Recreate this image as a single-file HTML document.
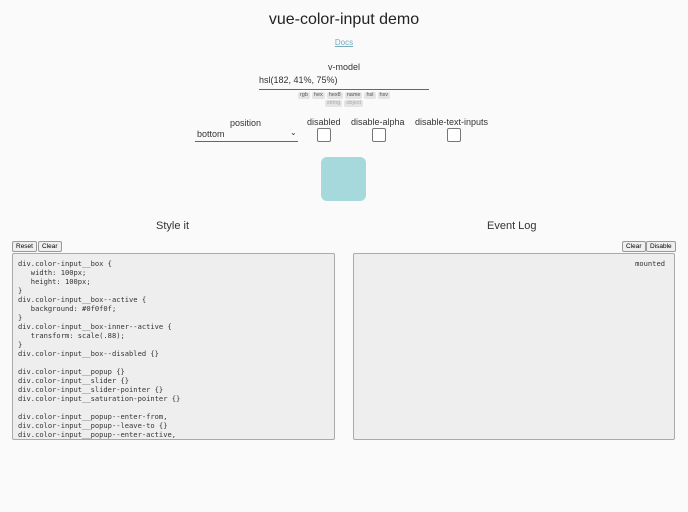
<!DOCTYPE html>
<html><head><style>
body{margin:0;background:#fafafa;width:688px;height:512px;position:relative;font-family:"Liberation Sans",sans-serif;color:#333;overflow:hidden}
.a{position:absolute}
.c{text-align:center}
.tag{display:inline-block;background:#e4e4e4;color:#555;font-size:5.5px;padding:0 2px;margin:0 1px;border-radius:2px;line-height:7px;vertical-align:top}
.tag.d{color:#aaa}
.cb{position:absolute;width:12px;height:12px;border:1px solid #777;border-radius:2px;background:#fff}
.btn{position:absolute;font-size:6.5px;border:1px solid #999;border-radius:2px;background:#efefef;padding:1px 3px;line-height:7px;color:#000}
.ta{position:absolute;background:#eee;border:1px solid #aaa;border-radius:2px;box-sizing:border-box;font-family:"DejaVu Sans Mono","Liberation Mono",monospace;font-size:7.1px;color:#333;white-space:pre;line-height:9px;overflow:hidden}
</style></head><body>
<div class="a c" style="left:0;width:688px;top:11px;font-size:16px;color:#222">vue-color-input demo</div>
<div class="a c" style="left:0;width:688px;top:38px;font-size:8px;color:#7ab;text-decoration:underline">Docs</div>
<div class="a c" style="left:0;width:688px;top:62px;font-size:9px">v-model</div>
<div class="a" style="left:259px;top:75px;font-size:9px">hsl(182, 41%, 75%)</div>
<div class="a" style="left:259px;top:89px;width:170px;border-top:1px solid #666"></div>
<div class="a c" style="left:0;width:688px;top:92px;height:7px"><span class="tag">rgb</span><span class="tag">hex</span><span class="tag">hex8</span><span class="tag">name</span><span class="tag">hsl</span><span class="tag">hsv</span></div>
<div class="a c" style="left:0;width:688px;top:100px;height:7px"><span class="tag d">string</span><span class="tag d">object</span></div>
<div class="a" style="left:230px;top:118px;font-size:9px">position</div>
<div class="a" style="left:197px;top:129px;font-size:9px">bottom</div>
<div class="a" style="left:290px;top:128px;font-size:8px">⌄</div>
<div class="a" style="left:195px;top:141px;width:103px;border-top:1px solid #666"></div>
<div class="a" style="left:307px;top:117px;font-size:9px">disabled</div>
<div class="cb" style="left:317px;top:128px"></div>
<div class="a" style="left:351px;top:117px;font-size:9px">disable-alpha</div>
<div class="cb" style="left:372px;top:128px"></div>
<div class="a" style="left:415px;top:117px;font-size:9px">disable-text-inputs</div>
<div class="cb" style="left:447px;top:128px"></div>
<div class="a" style="left:321px;top:157px;width:45px;height:44px;background:#a5d9db;border-radius:6px"></div>
<div class="a" style="left:156px;top:220px;font-size:11px">Style it</div>
<div class="a" style="left:487px;top:220px;font-size:11px">Event Log</div>
<div class="btn" style="left:12px;top:241px">Reset</div>
<div class="btn" style="left:38px;top:241px">Clear</div>
<div class="btn" style="left:622px;top:241px">Clear</div>
<div class="btn" style="left:646px;top:241px">Disable</div>
<div class="ta" style="left:12px;top:253px;width:323px;height:187px;padding:5px 0 0 5px">div.color-input__box {
   width: 100px;
   height: 100px;
}
div.color-input__box--active {
   background: #0f0f0f;
}
div.color-input__box-inner--active {
   transform: scale(.88);
}
div.color-input__box--disabled {}

div.color-input__popup {}
div.color-input__slider {}
div.color-input__slider-pointer {}
div.color-input__saturation-pointer {}

div.color-input__popup--enter-from,
div.color-input__popup--leave-to {}
div.color-input__popup--enter-active,
div.color-input__popup--leave-active {}</div>
<div class="ta" style="left:353px;top:253px;width:322px;height:187px;padding:5px 9px 0 0;text-align:right">mounted</div>
</body></html>
